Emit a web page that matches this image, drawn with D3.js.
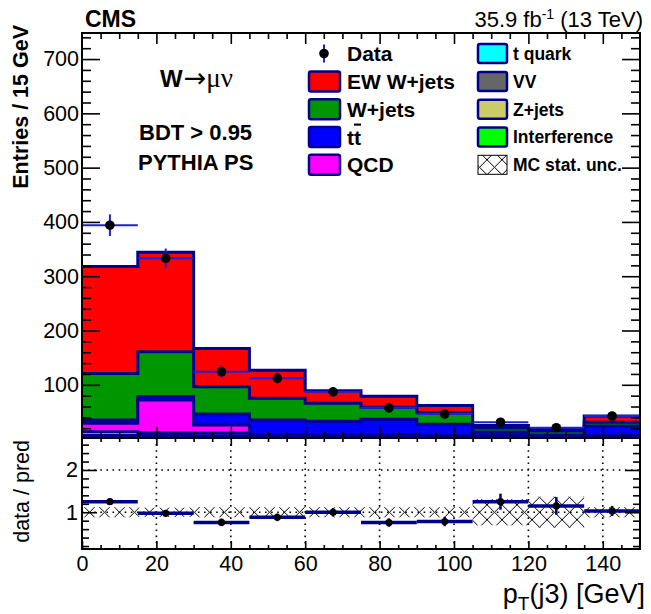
<!DOCTYPE html>
<html>
<head>
<meta charset="utf-8">
<script src="https://cdn.jsdelivr.net/npm/d3@7"></script>
<style>
body { margin: 0; background: #fff; }
svg { font-family: "Liberation Sans", Arial, Helvetica, sans-serif; }
</style>
</head>
<body>
<div id="chart"></div>
<script>
// pT(j3) bins, 15 GeV wide
const binEdges = [0, 15, 30, 45, 60, 75, 90, 105, 120, 135, 150];

// data (entries / 15 GeV) and its error
const dataCounts = [394, 333, 124, 112, 87, 57.5, 46, 31, 21, 42.5];
const dataErr    = [20, 18, 11, 11, 9, 8, 7, 5.5, 4.5, 6.5];

// MC processes, stacked from bottom to top
const interference = [1.5, 1.5, 1.0, 1.0, 1.0, 1.0, 0.5, 0.5, 0.5, 0.5];
const zjets        = [3.0, 3.0, 3.0, 2.0, 2.0, 2.0, 1.5, 1.0, 1.0, 1.5];
const vv           = [2.0, 2.0, 2.0, 1.5, 1.5, 1.5, 1.0, 1.0, 1.0, 1.0];
const tquark       = [7.0, 5.0, 5.0, 4.0, 4.0, 4.0, 3.0, 3.0, 2.0, 3.0];
const qcd          = [15.5, 60.5, 15, 0, 0, 0, 0, 0, 0, 0];
const ttbar        = [6, 6, 20, 26.5, 24.5, 28, 21.5, 7.5, 3, 18];
const wjets        = [86, 83, 50.5, 40, 33, 22, 21.5, 7.4, 7.4, 7];
const ewwjets      = [197, 183, 70.5, 52, 23, 20.5, 13, 4.6, 3.6, 11.5];

// ratio panel
const ratioVals = [1.25, 0.975, 0.76, 0.88, 1.0, 0.755, 0.78, 1.25, 1.15, 1.03];
const ratioErr  = [0.06, 0.055, 0.09, 0.09, 0.1, 0.1, 0.11, 0.19, 0.21, 0.12];
const mcUnc     = [0.12, 0.11, 0.12, 0.12, 0.12, 0.12, 0.12, 0.31, 0.37, 0.12];

// ticks
const yTicksMain  = [100, 200, 300, 400, 500, 600, 700];
const yTicksRatio = [1, 2];
const xTicks      = [0, 20, 40, 60, 80, 100, 120, 140];

const stackKeys   = ["interference", "zjets", "vv", "tquark", "qcd", "ttbar", "wjets", "ewwjets"];
const stackColors = ["#00ff00", "#cccc66", "#666666", "#00ffff", "#ff00ff", "#0000ff", "#009600", "#ff0000"];
const navy = "#00008c";

const W = 651, H = 614;
const L = 82, R = 640, T = 33, M = 438, B = 549;

const x  = d3.scaleLinear().domain([0, 150]).range([L, R]);
const y  = d3.scaleLinear().domain([2, 748]).range([M, T]);
const yr = d3.scaleLinear().domain([0.13, 2.757]).range([B, M]);

const svg = d3.select("#chart").append("svg")
  .attr("width", W).attr("height", H);

const defs = svg.append("defs");
defs.append("clipPath").attr("id", "clipMain")
  .append("rect").attr("x", L).attr("y", T).attr("width", R - L).attr("height", M - T);
defs.append("clipPath").attr("id", "clipRatio")
  .append("rect").attr("x", L).attr("y", M).attr("width", R - L).attr("height", B - M);
const pat = defs.append("pattern").attr("id", "hatch")
  .attr("patternUnits", "userSpaceOnUse")
  .attr("width", 15).attr("height", 15)
  .attr("x", L).attr("y", yr(1) - 7.5);
pat.append("path").attr("d", "M0,0L15,15M15,0L0,15")
  .attr("stroke", "#000").attr("stroke-width", 1).attr("fill", "none");

// ---------- top panel: stacked histograms ----------
const rows = ewwjets.map((_, i) => ({
  interference: interference[i], zjets: zjets[i], vv: vv[i], tquark: tquark[i],
  qcd: qcd[i], ttbar: ttbar[i], wjets: wjets[i], ewwjets: ewwjets[i]
}));
const series = d3.stack().keys(stackKeys)(rows);

const gStack = svg.append("g").attr("clip-path", "url(#clipMain)");
const area = d3.area().curve(d3.curveStepAfter)
  .x(d => x(d.x)).y0(y(0)).y1(d => y(d.v));
const line = d3.line().curve(d3.curveStepAfter)
  .x(d => x(d.x)).y(d => y(d.v));

// like THStack: biggest cumulative first, each filled from zero
for (let k = series.length - 1; k >= 0; k--) {
  const pts = series[k].map((d, i) => ({ x: binEdges[i], v: d[1] }));
  pts.push({ x: binEdges[binEdges.length - 1], v: series[k][series[k].length - 1][1] });
  gStack.append("path").attr("d", area(pts)).attr("fill", stackColors[k]);
  gStack.append("path").attr("d", line(pts))
    .attr("fill", "none").attr("stroke", navy).attr("stroke-width", 3);
}

// data points
const centers = binEdges.slice(0, -1).map((e, i) => (e + binEdges[i + 1]) / 2);
const gData = svg.append("g").attr("clip-path", "url(#clipMain)");
gData.selectAll(".xerr").data(dataCounts).enter().append("line")
  .attr("x1", (d, i) => x(binEdges[i])).attr("x2", (d, i) => x(binEdges[i + 1]))
  .attr("y1", d => y(d)).attr("y2", d => y(d))
  .attr("stroke", "#1f1fd6").attr("stroke-width", 2);
gData.selectAll(".yerr").data(dataCounts).enter().append("line")
  .attr("x1", (d, i) => x(centers[i])).attr("x2", (d, i) => x(centers[i]))
  .attr("y1", (d, i) => y(d - dataErr[i])).attr("y2", (d, i) => y(d + dataErr[i]))
  .attr("stroke", "#1f1fd6").attr("stroke-width", 2);
gData.selectAll("circle").data(dataCounts).enter().append("circle")
  .attr("cx", (d, i) => x(centers[i])).attr("cy", d => y(d))
  .attr("r", 4.8).attr("fill", "#000");

// ---------- ratio panel ----------
const gRatio = svg.append("g").attr("clip-path", "url(#clipRatio)");
// grid
gRatio.selectAll(".vgrid").data(xTicks.slice(1)).enter().append("line")
  .attr("x1", d => x(d)).attr("x2", d => x(d)).attr("y1", M).attr("y2", B)
  .attr("stroke", "#000").attr("stroke-width", 1.6).attr("stroke-dasharray", "1.6,4.5");
gRatio.selectAll(".hgrid").data(yTicksRatio).enter().append("line")
  .attr("x1", L).attr("x2", R).attr("y1", d => yr(d)).attr("y2", d => yr(d))
  .attr("stroke", "#000").attr("stroke-width", 1.6).attr("stroke-dasharray", "1.6,4.5");
// MC stat. unc. band
gRatio.selectAll(".band").data(mcUnc).enter().append("rect")
  .attr("x", (d, i) => x(binEdges[i])).attr("width", (d, i) => x(binEdges[i + 1]) - x(binEdges[i]))
  .attr("y", d => yr(1 + d)).attr("height", d => yr(1 - d) - yr(1 + d))
  .attr("fill", "url(#hatch)");
// data / pred
gRatio.selectAll(".rbar").data(ratioVals).enter().append("line")
  .attr("x1", (d, i) => x(binEdges[i])).attr("x2", (d, i) => x(binEdges[i + 1]))
  .attr("y1", d => yr(d)).attr("y2", d => yr(d))
  .attr("stroke", navy).attr("stroke-width", 3.5);
gRatio.selectAll(".rerr").data(ratioVals).enter().append("line")
  .attr("x1", (d, i) => x(centers[i])).attr("x2", (d, i) => x(centers[i]))
  .attr("y1", (d, i) => yr(d - ratioErr[i])).attr("y2", (d, i) => yr(d + ratioErr[i]))
  .attr("stroke", navy).attr("stroke-width", 2.5);
gRatio.selectAll("circle").data(ratioVals).enter().append("circle")
  .attr("cx", (d, i) => x(centers[i])).attr("cy", d => yr(d))
  .attr("r", 3.6).attr("fill", "#000");

// ---------- axes ----------
function styleAxis(g, fs) {
  g.select(".domain").remove();
  g.selectAll(".tick line").attr("stroke", "#000").attr("stroke-width", 1.6);
  g.selectAll("text").attr("font-size", fs).attr("fill", "#000")
    .attr("font-family", "'Liberation Sans', Arial, sans-serif");
}
const mainMinor = d3.range(20, 748, 20).filter(v => v % 100 !== 0);
const xMinor = d3.range(5, 150, 5).filter(v => v % 20 !== 0);
const rMinor = d3.range(0.2, 2.75, 0.2).filter(v => Math.abs(v - 1) > 0.01 && Math.abs(v - 2) > 0.01);

svg.append("g").attr("transform", `translate(${L},0)`)
  .call(d3.axisLeft(y).tickValues(yTicksMain).tickSize(-18).tickPadding(3).tickFormat(d3.format("d")))
  .call(g => styleAxis(g, 21.5));
svg.append("g").attr("transform", `translate(${L},0)`)
  .call(d3.axisLeft(y).tickValues(mainMinor).tickSize(-9).tickFormat(""))
  .call(g => styleAxis(g, 0));
svg.append("g").attr("transform", `translate(${R},0)`)
  .call(d3.axisRight(y).tickValues(yTicksMain).tickSize(-18).tickFormat(""))
  .call(g => styleAxis(g, 0));
svg.append("g").attr("transform", `translate(${R},0)`)
  .call(d3.axisRight(y).tickValues(mainMinor).tickSize(-9).tickFormat(""))
  .call(g => styleAxis(g, 0));
svg.append("g").attr("transform", `translate(0,${T})`)
  .call(d3.axisTop(x).tickValues(xTicks.slice(1)).tickSize(-11).tickFormat(""))
  .call(g => styleAxis(g, 0));
svg.append("g").attr("transform", `translate(0,${T})`)
  .call(d3.axisTop(x).tickValues(xMinor).tickSize(-6).tickFormat(""))
  .call(g => styleAxis(g, 0));
svg.append("g").attr("transform", `translate(0,${M})`)
  .call(d3.axisBottom(x).tickValues(xTicks.slice(1)).tickSize(-11).tickFormat(""))
  .call(g => styleAxis(g, 0));
svg.append("g").attr("transform", `translate(0,${M})`)
  .call(d3.axisBottom(x).tickValues(xMinor).tickSize(-6).tickFormat(""))
  .call(g => styleAxis(g, 0));

// ratio axes
svg.append("g").attr("transform", `translate(0,${B})`)
  .call(d3.axisBottom(x).tickValues(xTicks).tickSize(-8).tickPadding(7).tickFormat(d3.format("d")))
  .call(g => styleAxis(g, 21.5));
svg.append("g").attr("transform", `translate(0,${B})`)
  .call(d3.axisBottom(x).tickValues(xMinor).tickSize(-4).tickFormat(""))
  .call(g => styleAxis(g, 0));
svg.append("g").attr("transform", `translate(0,${M})`)
  .call(d3.axisTop(x).tickValues(xTicks.slice(1)).tickSize(-8).tickFormat(""))
  .call(g => styleAxis(g, 0));
svg.append("g").attr("transform", `translate(0,${M})`)
  .call(d3.axisTop(x).tickValues(xMinor).tickSize(-4).tickFormat(""))
  .call(g => styleAxis(g, 0));
svg.append("g").attr("transform", `translate(${L},0)`)
  .call(d3.axisLeft(yr).tickValues(yTicksRatio).tickSize(-15).tickPadding(4).tickFormat(d3.format("d")))
  .call(g => styleAxis(g, 21.5));
svg.append("g").attr("transform", `translate(${L},0)`)
  .call(d3.axisLeft(yr).tickValues(rMinor).tickSize(-7).tickFormat(""))
  .call(g => styleAxis(g, 0));
svg.append("g").attr("transform", `translate(${R},0)`)
  .call(d3.axisRight(yr).tickValues(yTicksRatio).tickSize(-15).tickFormat(""))
  .call(g => styleAxis(g, 0));
svg.append("g").attr("transform", `translate(${R},0)`)
  .call(d3.axisRight(yr).tickValues(rMinor).tickSize(-7).tickFormat(""))
  .call(g => styleAxis(g, 0));

// frames
svg.append("rect").attr("x", L).attr("y", T).attr("width", R - L).attr("height", M - T)
  .attr("fill", "none").attr("stroke", "#000").attr("stroke-width", 2);
svg.append("rect").attr("x", L).attr("y", M).attr("width", R - L).attr("height", B - M)
  .attr("fill", "none").attr("stroke", "#000").attr("stroke-width", 2);

// ---------- legend ----------
const legendRows = [53.5, 81.5, 109.3, 137, 164.8];
const leftNames  = ["EW W+jets", "W+jets", "t t\u0304", "QCD"];
const leftColors = ["#ff0000", "#009600", "#0000ff", "#ff00ff"];
const rightNames  = ["t quark", "VV", "Z+jets", "Interference", "MC stat. unc."];
const rightColors = ["#00ffff", "#666666", "#cccc66", "#00ff00", "url(#hatch)"];

const leg = svg.append("g");
leg.append("line").attr("x1", 324).attr("x2", 324).attr("y1", legendRows[0] - 9).attr("y2", legendRows[0] + 9)
  .attr("stroke", "#1f1fd6").attr("stroke-width", 2);
leg.append("circle").attr("cx", 324).attr("cy", legendRows[0]).attr("r", 4.8).attr("fill", "#000");
leg.append("text").attr("x", 347).attr("y", legendRows[0]).attr("dy", "0.36em")
  .attr("font-size", 21).attr("font-weight", "bold").text("Data");

leftNames.forEach((n, i) => {
  const cy = legendRows[i + 1];
  leg.append("rect").attr("x", 309).attr("y", cy - 10).attr("width", 31).attr("height", 20)
    .attr("rx", 2).attr("fill", leftColors[i]).attr("stroke", navy).attr("stroke-width", 2.5);
  const t = leg.append("text").attr("x", 347).attr("y", cy).attr("dy", "0.36em")
    .attr("font-size", 21).attr("font-weight", "bold");
  if (i === 2) {
    t.append("tspan").text("t");
    t.append("tspan").text("t").attr("text-decoration", "overline");
  } else {
    t.text(n);
  }
});
rightNames.forEach((n, i) => {
  const cy = legendRows[i];
  const hatchBox = i === 4;
  leg.append("rect").attr("x", 478).attr("y", cy - 9.5).attr("width", 29).attr("height", 19)
    .attr("rx", hatchBox ? 0 : 2).attr("fill", hatchBox ? "#fff" : rightColors[i])
    .attr("stroke", hatchBox ? "#000" : navy).attr("stroke-width", hatchBox ? 1 : 2.5);
  if (hatchBox) {
    leg.append("rect").attr("x", 478).attr("y", cy - 9.5).attr("width", 29).attr("height", 19)
      .attr("fill", rightColors[i]);
  }
  leg.append("text").attr("x", 513).attr("y", cy).attr("dy", "0.36em")
    .attr("font-size", 17.5).attr("font-weight", "bold").text(n);
});

// ---------- labels ----------
svg.append("text").attr("x", 85).attr("y", 27)
  .attr("font-size", 23).attr("font-weight", "bold").text("CMS");
const lumi = svg.append("text").attr("x", 643).attr("y", 26.5)
  .attr("text-anchor", "end").attr("font-size", 22);
lumi.append("tspan").text("35.9 fb");
lumi.append("tspan").attr("dy", -8).attr("font-size", 14).text("-1");
lumi.append("tspan").attr("dy", 8).text(" (13 TeV)");

svg.append("text").attr("transform", "translate(28,25) rotate(-90)")
  .attr("text-anchor", "end").attr("font-size", 21.5).attr("font-weight", "bold")
  .text("Entries / 15 GeV");
svg.append("text").attr("transform", "translate(29,440) rotate(-90)")
  .attr("text-anchor", "end").attr("font-size", 21.5)
  .text("data / pred");

const xt = svg.append("text").attr("x", 645).attr("y", 603)
  .attr("text-anchor", "end").attr("font-size", 27);
xt.append("tspan").text("p");
xt.append("tspan").attr("dy", 7).attr("font-size", 19).text("T");
xt.append("tspan").attr("dy", -7).text("(j3) [GeV]");

const wl = svg.append("text").attr("x", 160).attr("y", 87).attr("font-size", 24);
wl.append("tspan").attr("font-weight", "bold").text("W");
wl.append("tspan").attr("font-family", "'DejaVu Sans', sans-serif").attr("font-size", 27)
  .attr("dx", 1).text("\u2192");
wl.append("tspan").attr("font-family", "'Liberation Serif', serif").attr("font-size", 27)
  .text("\u03bc\u03bd");
svg.append("text").attr("x", 139).attr("y", 140)
  .attr("font-size", 22).attr("font-weight", "bold").text("BDT > 0.95");
svg.append("text").attr("x", 138).attr("y", 170)
  .attr("font-size", 22).attr("font-weight", "bold").text("PYTHIA PS");
</script>
</body>
</html>
